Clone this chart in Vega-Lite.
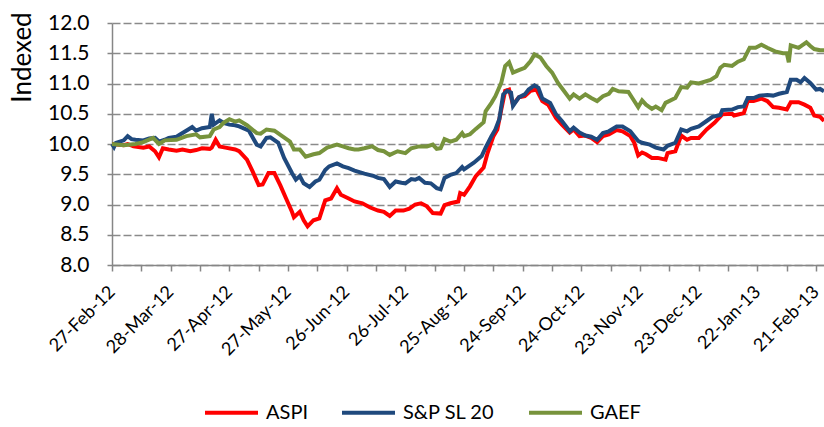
{
 "$schema": "https://vega.github.io/schema/vega-lite/v6.json",
 "width": 712, "height": 242,
 "autosize": {"type": "none"},
 "padding": {"left": 112, "top": 23, "right": 0, "bottom": 162},
 "background": "white",
 "config": {"view": {"stroke": null}, "font": "Lato"},
 "data": {"values": [
{"t":"2012-02-27","s":"ASPI","v":10.0},{"t":"2012-03-04","s":"ASPI","v":9.98},{"t":"2012-03-06","s":"ASPI","v":10.0},{"t":"2012-03-09","s":"ASPI","v":9.96},{"t":"2012-03-14","s":"ASPI","v":9.94},{"t":"2012-03-17","s":"ASPI","v":9.96},{"t":"2012-03-20","s":"ASPI","v":9.88},{"t":"2012-03-22","s":"ASPI","v":9.78},{"t":"2012-03-24","s":"ASPI","v":9.93},{"t":"2012-03-27","s":"ASPI","v":9.91},{"t":"2012-03-31","s":"ASPI","v":9.89},{"t":"2012-04-03","s":"ASPI","v":9.91},{"t":"2012-04-07","s":"ASPI","v":9.88},{"t":"2012-04-10","s":"ASPI","v":9.9},{"t":"2012-04-13","s":"ASPI","v":9.93},{"t":"2012-04-17","s":"ASPI","v":9.92},{"t":"2012-04-18","s":"ASPI","v":9.94},{"t":"2012-04-20","s":"ASPI","v":10.07},{"t":"2012-04-22","s":"ASPI","v":9.96},{"t":"2012-04-25","s":"ASPI","v":9.94},{"t":"2012-04-30","s":"ASPI","v":9.91},{"t":"2012-05-02","s":"ASPI","v":9.88},{"t":"2012-05-06","s":"ASPI","v":9.74},{"t":"2012-05-09","s":"ASPI","v":9.54},{"t":"2012-05-12","s":"ASPI","v":9.32},{"t":"2012-05-14","s":"ASPI","v":9.33},{"t":"2012-05-17","s":"ASPI","v":9.52},{"t":"2012-05-20","s":"ASPI","v":9.52},{"t":"2012-05-23","s":"ASPI","v":9.32},{"t":"2012-05-26","s":"ASPI","v":9.1},{"t":"2012-05-29","s":"ASPI","v":8.88},{"t":"2012-05-30","s":"ASPI","v":8.79},{"t":"2012-06-02","s":"ASPI","v":8.88},{"t":"2012-06-04","s":"ASPI","v":8.74},{"t":"2012-06-06","s":"ASPI","v":8.64},{"t":"2012-06-09","s":"ASPI","v":8.74},{"t":"2012-06-12","s":"ASPI","v":8.77},{"t":"2012-06-15","s":"ASPI","v":9.07},{"t":"2012-06-18","s":"ASPI","v":9.1},{"t":"2012-06-21","s":"ASPI","v":9.27},{"t":"2012-06-23","s":"ASPI","v":9.16},{"t":"2012-06-27","s":"ASPI","v":9.1},{"t":"2012-06-30","s":"ASPI","v":9.05},{"t":"2012-07-04","s":"ASPI","v":9.02},{"t":"2012-07-08","s":"ASPI","v":8.95},{"t":"2012-07-12","s":"ASPI","v":8.9},{"t":"2012-07-15","s":"ASPI","v":8.88},{"t":"2012-07-18","s":"ASPI","v":8.81},{"t":"2012-07-21","s":"ASPI","v":8.9},{"t":"2012-07-25","s":"ASPI","v":8.9},{"t":"2012-07-28","s":"ASPI","v":8.93},{"t":"2012-07-31","s":"ASPI","v":9.0},{"t":"2012-08-03","s":"ASPI","v":9.02},{"t":"2012-08-06","s":"ASPI","v":8.97},{"t":"2012-08-09","s":"ASPI","v":8.86},{"t":"2012-08-13","s":"ASPI","v":8.85},{"t":"2012-08-15","s":"ASPI","v":8.99},{"t":"2012-08-18","s":"ASPI","v":9.02},{"t":"2012-08-22","s":"ASPI","v":9.05},{"t":"2012-08-23","s":"ASPI","v":9.19},{"t":"2012-08-25","s":"ASPI","v":9.16},{"t":"2012-08-28","s":"ASPI","v":9.3},{"t":"2012-08-31","s":"ASPI","v":9.47},{"t":"2012-09-04","s":"ASPI","v":9.61},{"t":"2012-09-06","s":"ASPI","v":9.85},{"t":"2012-09-09","s":"ASPI","v":10.13},{"t":"2012-09-11","s":"ASPI","v":10.24},{"t":"2012-09-13","s":"ASPI","v":10.57},{"t":"2012-09-15","s":"ASPI","v":10.88},{"t":"2012-09-17","s":"ASPI","v":10.9},{"t":"2012-09-19","s":"ASPI","v":10.65},{"t":"2012-09-22","s":"ASPI","v":10.77},{"t":"2012-09-25","s":"ASPI","v":10.79},{"t":"2012-09-28","s":"ASPI","v":10.88},{"t":"2012-10-01","s":"ASPI","v":10.9},{"t":"2012-10-04","s":"ASPI","v":10.71},{"t":"2012-10-07","s":"ASPI","v":10.65},{"t":"2012-10-11","s":"ASPI","v":10.43},{"t":"2012-10-14","s":"ASPI","v":10.32},{"t":"2012-10-18","s":"ASPI","v":10.19},{"t":"2012-10-20","s":"ASPI","v":10.24},{"t":"2012-10-23","s":"ASPI","v":10.13},{"t":"2012-10-26","s":"ASPI","v":10.14},{"t":"2012-10-29","s":"ASPI","v":10.1},{"t":"2012-11-01","s":"ASPI","v":10.03},{"t":"2012-11-04","s":"ASPI","v":10.13},{"t":"2012-11-07","s":"ASPI","v":10.16},{"t":"2012-11-11","s":"ASPI","v":10.23},{"t":"2012-11-14","s":"ASPI","v":10.21},{"t":"2012-11-18","s":"ASPI","v":10.13},{"t":"2012-11-20","s":"ASPI","v":10.02},{"t":"2012-11-22","s":"ASPI","v":9.81},{"t":"2012-11-24","s":"ASPI","v":9.86},{"t":"2012-11-26","s":"ASPI","v":9.83},{"t":"2012-11-29","s":"ASPI","v":9.77},{"t":"2012-12-02","s":"ASPI","v":9.77},{"t":"2012-12-06","s":"ASPI","v":9.74},{"t":"2012-12-07","s":"ASPI","v":9.85},{"t":"2012-12-11","s":"ASPI","v":9.88},{"t":"2012-12-14","s":"ASPI","v":10.14},{"t":"2012-12-17","s":"ASPI","v":10.07},{"t":"2012-12-19","s":"ASPI","v":10.1},{"t":"2012-12-23","s":"ASPI","v":10.1},{"t":"2012-12-27","s":"ASPI","v":10.24},{"t":"2012-12-31","s":"ASPI","v":10.35},{"t":"2013-01-04","s":"ASPI","v":10.49},{"t":"2013-01-09","s":"ASPI","v":10.5},{"t":"2013-01-10","s":"ASPI","v":10.47},{"t":"2013-01-15","s":"ASPI","v":10.51},{"t":"2013-01-17","s":"ASPI","v":10.71},{"t":"2013-01-20","s":"ASPI","v":10.71},{"t":"2013-01-24","s":"ASPI","v":10.75},{"t":"2013-01-27","s":"ASPI","v":10.71},{"t":"2013-01-30","s":"ASPI","v":10.61},{"t":"2013-02-02","s":"ASPI","v":10.6},{"t":"2013-02-06","s":"ASPI","v":10.57},{"t":"2013-02-08","s":"ASPI","v":10.69},{"t":"2013-02-12","s":"ASPI","v":10.69},{"t":"2013-02-15","s":"ASPI","v":10.65},{"t":"2013-02-18","s":"ASPI","v":10.6},{"t":"2013-02-20","s":"ASPI","v":10.47},{"t":"2013-02-23","s":"ASPI","v":10.45},{"t":"2013-02-25","s":"ASPI","v":10.38},
{"t":"2012-02-27","s":"S&P SL 20","v":10.0},{"t":"2012-02-28","s":"S&P SL 20","v":9.95},{"t":"2012-02-29","s":"S&P SL 20","v":10.02},{"t":"2012-03-04","s":"S&P SL 20","v":10.06},{"t":"2012-03-06","s":"S&P SL 20","v":10.13},{"t":"2012-03-08","s":"S&P SL 20","v":10.08},{"t":"2012-03-10","s":"S&P SL 20","v":10.07},{"t":"2012-03-14","s":"S&P SL 20","v":10.06},{"t":"2012-03-17","s":"S&P SL 20","v":10.09},{"t":"2012-03-20","s":"S&P SL 20","v":10.1},{"t":"2012-03-22","s":"S&P SL 20","v":10.04},{"t":"2012-03-25","s":"S&P SL 20","v":10.07},{"t":"2012-03-27","s":"S&P SL 20","v":10.1},{"t":"2012-03-31","s":"S&P SL 20","v":10.12},{"t":"2012-04-02","s":"S&P SL 20","v":10.16},{"t":"2012-04-06","s":"S&P SL 20","v":10.24},{"t":"2012-04-08","s":"S&P SL 20","v":10.28},{"t":"2012-04-10","s":"S&P SL 20","v":10.22},{"t":"2012-04-13","s":"S&P SL 20","v":10.26},{"t":"2012-04-17","s":"S&P SL 20","v":10.28},{"t":"2012-04-18","s":"S&P SL 20","v":10.5},{"t":"2012-04-19","s":"S&P SL 20","v":10.32},{"t":"2012-04-22","s":"S&P SL 20","v":10.39},{"t":"2012-04-24","s":"S&P SL 20","v":10.35},{"t":"2012-04-27","s":"S&P SL 20","v":10.32},{"t":"2012-04-30","s":"S&P SL 20","v":10.31},{"t":"2012-05-02","s":"S&P SL 20","v":10.29},{"t":"2012-05-07","s":"S&P SL 20","v":10.22},{"t":"2012-05-11","s":"S&P SL 20","v":9.99},{"t":"2012-05-13","s":"S&P SL 20","v":9.96},{"t":"2012-05-16","s":"S&P SL 20","v":10.1},{"t":"2012-05-18","s":"S&P SL 20","v":10.11},{"t":"2012-05-22","s":"S&P SL 20","v":10.02},{"t":"2012-05-25","s":"S&P SL 20","v":9.77},{"t":"2012-05-29","s":"S&P SL 20","v":9.52},{"t":"2012-05-31","s":"S&P SL 20","v":9.41},{"t":"2012-06-02","s":"S&P SL 20","v":9.47},{"t":"2012-06-04","s":"S&P SL 20","v":9.35},{"t":"2012-06-07","s":"S&P SL 20","v":9.29},{"t":"2012-06-10","s":"S&P SL 20","v":9.38},{"t":"2012-06-12","s":"S&P SL 20","v":9.41},{"t":"2012-06-15","s":"S&P SL 20","v":9.57},{"t":"2012-06-17","s":"S&P SL 20","v":9.63},{"t":"2012-06-21","s":"S&P SL 20","v":9.68},{"t":"2012-06-24","s":"S&P SL 20","v":9.63},{"t":"2012-06-27","s":"S&P SL 20","v":9.6},{"t":"2012-06-30","s":"S&P SL 20","v":9.56},{"t":"2012-07-05","s":"S&P SL 20","v":9.51},{"t":"2012-07-10","s":"S&P SL 20","v":9.47},{"t":"2012-07-12","s":"S&P SL 20","v":9.44},{"t":"2012-07-15","s":"S&P SL 20","v":9.42},{"t":"2012-07-18","s":"S&P SL 20","v":9.29},{"t":"2012-07-21","s":"S&P SL 20","v":9.38},{"t":"2012-07-24","s":"S&P SL 20","v":9.36},{"t":"2012-07-26","s":"S&P SL 20","v":9.35},{"t":"2012-07-29","s":"S&P SL 20","v":9.42},{"t":"2012-07-31","s":"S&P SL 20","v":9.41},{"t":"2012-08-02","s":"S&P SL 20","v":9.44},{"t":"2012-08-05","s":"S&P SL 20","v":9.36},{"t":"2012-08-08","s":"S&P SL 20","v":9.35},{"t":"2012-08-11","s":"S&P SL 20","v":9.27},{"t":"2012-08-13","s":"S&P SL 20","v":9.25},{"t":"2012-08-15","s":"S&P SL 20","v":9.44},{"t":"2012-08-18","s":"S&P SL 20","v":9.49},{"t":"2012-08-21","s":"S&P SL 20","v":9.52},{"t":"2012-08-24","s":"S&P SL 20","v":9.62},{"t":"2012-08-25","s":"S&P SL 20","v":9.58},{"t":"2012-08-30","s":"S&P SL 20","v":9.69},{"t":"2012-09-03","s":"S&P SL 20","v":9.8},{"t":"2012-09-05","s":"S&P SL 20","v":9.94},{"t":"2012-09-08","s":"S&P SL 20","v":10.13},{"t":"2012-09-10","s":"S&P SL 20","v":10.24},{"t":"2012-09-12","s":"S&P SL 20","v":10.41},{"t":"2012-09-14","s":"S&P SL 20","v":10.82},{"t":"2012-09-16","s":"S&P SL 20","v":10.88},{"t":"2012-09-18","s":"S&P SL 20","v":10.85},{"t":"2012-09-19","s":"S&P SL 20","v":10.63},{"t":"2012-09-22","s":"S&P SL 20","v":10.77},{"t":"2012-09-25","s":"S&P SL 20","v":10.82},{"t":"2012-09-27","s":"S&P SL 20","v":10.9},{"t":"2012-09-30","s":"S&P SL 20","v":10.97},{"t":"2012-10-02","s":"S&P SL 20","v":10.93},{"t":"2012-10-04","s":"S&P SL 20","v":10.75},{"t":"2012-10-08","s":"S&P SL 20","v":10.68},{"t":"2012-10-11","s":"S&P SL 20","v":10.49},{"t":"2012-10-14","s":"S&P SL 20","v":10.38},{"t":"2012-10-18","s":"S&P SL 20","v":10.21},{"t":"2012-10-20","s":"S&P SL 20","v":10.27},{"t":"2012-10-23","s":"S&P SL 20","v":10.19},{"t":"2012-10-26","s":"S&P SL 20","v":10.14},{"t":"2012-10-29","s":"S&P SL 20","v":10.12},{"t":"2012-11-01","s":"S&P SL 20","v":10.07},{"t":"2012-11-04","s":"S&P SL 20","v":10.18},{"t":"2012-11-07","s":"S&P SL 20","v":10.21},{"t":"2012-11-11","s":"S&P SL 20","v":10.29},{"t":"2012-11-14","s":"S&P SL 20","v":10.29},{"t":"2012-11-18","s":"S&P SL 20","v":10.21},{"t":"2012-11-20","s":"S&P SL 20","v":10.13},{"t":"2012-11-22","s":"S&P SL 20","v":10.05},{"t":"2012-11-24","s":"S&P SL 20","v":10.02},{"t":"2012-11-28","s":"S&P SL 20","v":9.99},{"t":"2012-12-01","s":"S&P SL 20","v":9.94},{"t":"2012-12-05","s":"S&P SL 20","v":9.91},{"t":"2012-12-07","s":"S&P SL 20","v":9.97},{"t":"2012-12-11","s":"S&P SL 20","v":10.02},{"t":"2012-12-14","s":"S&P SL 20","v":10.24},{"t":"2012-12-17","s":"S&P SL 20","v":10.21},{"t":"2012-12-19","s":"S&P SL 20","v":10.25},{"t":"2012-12-23","s":"S&P SL 20","v":10.29},{"t":"2012-12-27","s":"S&P SL 20","v":10.38},{"t":"2012-12-30","s":"S&P SL 20","v":10.45},{"t":"2013-01-03","s":"S&P SL 20","v":10.48},{"t":"2013-01-04","s":"S&P SL 20","v":10.56},{"t":"2013-01-09","s":"S&P SL 20","v":10.57},{"t":"2013-01-12","s":"S&P SL 20","v":10.61},{"t":"2013-01-15","s":"S&P SL 20","v":10.62},{"t":"2013-01-17","s":"S&P SL 20","v":10.76},{"t":"2013-01-20","s":"S&P SL 20","v":10.76},{"t":"2013-01-23","s":"S&P SL 20","v":10.8},{"t":"2013-01-27","s":"S&P SL 20","v":10.81},{"t":"2013-01-30","s":"S&P SL 20","v":10.8},{"t":"2013-02-02","s":"S&P SL 20","v":10.83},{"t":"2013-02-06","s":"S&P SL 20","v":10.86},{"t":"2013-02-08","s":"S&P SL 20","v":11.06},{"t":"2013-02-11","s":"S&P SL 20","v":11.06},{"t":"2013-02-13","s":"S&P SL 20","v":11.02},{"t":"2013-02-15","s":"S&P SL 20","v":11.09},{"t":"2013-02-18","s":"S&P SL 20","v":11.01},{"t":"2013-02-21","s":"S&P SL 20","v":10.9},{"t":"2013-02-23","s":"S&P SL 20","v":10.91},{"t":"2013-02-25","s":"S&P SL 20","v":10.87},
{"t":"2012-02-27","s":"GAEF","v":10.0},{"t":"2012-03-04","s":"GAEF","v":9.98},{"t":"2012-03-10","s":"GAEF","v":10.0},{"t":"2012-03-14","s":"GAEF","v":10.03},{"t":"2012-03-19","s":"GAEF","v":10.1},{"t":"2012-03-22","s":"GAEF","v":10.0},{"t":"2012-03-25","s":"GAEF","v":10.06},{"t":"2012-03-31","s":"GAEF","v":10.07},{"t":"2012-04-05","s":"GAEF","v":10.13},{"t":"2012-04-10","s":"GAEF","v":10.16},{"t":"2012-04-12","s":"GAEF","v":10.11},{"t":"2012-04-17","s":"GAEF","v":10.13},{"t":"2012-04-19","s":"GAEF","v":10.24},{"t":"2012-04-22","s":"GAEF","v":10.28},{"t":"2012-04-24","s":"GAEF","v":10.35},{"t":"2012-04-27","s":"GAEF","v":10.41},{"t":"2012-04-30","s":"GAEF","v":10.37},{"t":"2012-05-02","s":"GAEF","v":10.39},{"t":"2012-05-06","s":"GAEF","v":10.31},{"t":"2012-05-11","s":"GAEF","v":10.18},{"t":"2012-05-13","s":"GAEF","v":10.17},{"t":"2012-05-16","s":"GAEF","v":10.24},{"t":"2012-05-20","s":"GAEF","v":10.22},{"t":"2012-05-24","s":"GAEF","v":10.13},{"t":"2012-05-28","s":"GAEF","v":10.04},{"t":"2012-05-30","s":"GAEF","v":9.91},{"t":"2012-06-02","s":"GAEF","v":9.91},{"t":"2012-06-05","s":"GAEF","v":9.79},{"t":"2012-06-09","s":"GAEF","v":9.83},{"t":"2012-06-12","s":"GAEF","v":9.85},{"t":"2012-06-16","s":"GAEF","v":9.94},{"t":"2012-06-21","s":"GAEF","v":9.99},{"t":"2012-06-24","s":"GAEF","v":9.96},{"t":"2012-06-27","s":"GAEF","v":9.93},{"t":"2012-06-30","s":"GAEF","v":9.91},{"t":"2012-07-02","s":"GAEF","v":9.91},{"t":"2012-07-05","s":"GAEF","v":9.93},{"t":"2012-07-09","s":"GAEF","v":9.96},{"t":"2012-07-12","s":"GAEF","v":9.9},{"t":"2012-07-15","s":"GAEF","v":9.88},{"t":"2012-07-18","s":"GAEF","v":9.82},{"t":"2012-07-22","s":"GAEF","v":9.88},{"t":"2012-07-26","s":"GAEF","v":9.85},{"t":"2012-07-29","s":"GAEF","v":9.93},{"t":"2012-08-02","s":"GAEF","v":9.96},{"t":"2012-08-06","s":"GAEF","v":9.96},{"t":"2012-08-09","s":"GAEF","v":9.99},{"t":"2012-08-11","s":"GAEF","v":9.92},{"t":"2012-08-13","s":"GAEF","v":9.93},{"t":"2012-08-15","s":"GAEF","v":10.08},{"t":"2012-08-18","s":"GAEF","v":10.04},{"t":"2012-08-21","s":"GAEF","v":10.07},{"t":"2012-08-24","s":"GAEF","v":10.18},{"t":"2012-08-25","s":"GAEF","v":10.13},{"t":"2012-08-28","s":"GAEF","v":10.16},{"t":"2012-08-31","s":"GAEF","v":10.25},{"t":"2012-09-04","s":"GAEF","v":10.36},{"t":"2012-09-05","s":"GAEF","v":10.54},{"t":"2012-09-08","s":"GAEF","v":10.68},{"t":"2012-09-10","s":"GAEF","v":10.79},{"t":"2012-09-13","s":"GAEF","v":11.01},{"t":"2012-09-15","s":"GAEF","v":11.29},{"t":"2012-09-17","s":"GAEF","v":11.35},{"t":"2012-09-19","s":"GAEF","v":11.18},{"t":"2012-09-22","s":"GAEF","v":11.22},{"t":"2012-09-25","s":"GAEF","v":11.26},{"t":"2012-09-28","s":"GAEF","v":11.37},{"t":"2012-09-30","s":"GAEF","v":11.48},{"t":"2012-10-03","s":"GAEF","v":11.43},{"t":"2012-10-06","s":"GAEF","v":11.29},{"t":"2012-10-09","s":"GAEF","v":11.18},{"t":"2012-10-12","s":"GAEF","v":11.01},{"t":"2012-10-15","s":"GAEF","v":10.88},{"t":"2012-10-18","s":"GAEF","v":10.75},{"t":"2012-10-20","s":"GAEF","v":10.82},{"t":"2012-10-23","s":"GAEF","v":10.75},{"t":"2012-10-26","s":"GAEF","v":10.82},{"t":"2012-10-29","s":"GAEF","v":10.76},{"t":"2012-11-01","s":"GAEF","v":10.71},{"t":"2012-11-04","s":"GAEF","v":10.79},{"t":"2012-11-07","s":"GAEF","v":10.83},{"t":"2012-11-09","s":"GAEF","v":10.91},{"t":"2012-11-12","s":"GAEF","v":10.87},{"t":"2012-11-17","s":"GAEF","v":10.86},{"t":"2012-11-19","s":"GAEF","v":10.76},{"t":"2012-11-22","s":"GAEF","v":10.61},{"t":"2012-11-24","s":"GAEF","v":10.72},{"t":"2012-11-26","s":"GAEF","v":10.65},{"t":"2012-11-29","s":"GAEF","v":10.58},{"t":"2012-12-01","s":"GAEF","v":10.62},{"t":"2012-12-04","s":"GAEF","v":10.56},{"t":"2012-12-06","s":"GAEF","v":10.68},{"t":"2012-12-11","s":"GAEF","v":10.76},{"t":"2012-12-14","s":"GAEF","v":10.94},{"t":"2012-12-17","s":"GAEF","v":10.93},{"t":"2012-12-19","s":"GAEF","v":11.02},{"t":"2012-12-23","s":"GAEF","v":11.0},{"t":"2012-12-29","s":"GAEF","v":11.06},{"t":"2013-01-01","s":"GAEF","v":11.12},{"t":"2013-01-03","s":"GAEF","v":11.26},{"t":"2013-01-05","s":"GAEF","v":11.31},{"t":"2013-01-09","s":"GAEF","v":11.29},{"t":"2013-01-12","s":"GAEF","v":11.36},{"t":"2013-01-15","s":"GAEF","v":11.4},{"t":"2013-01-18","s":"GAEF","v":11.59},{"t":"2013-01-21","s":"GAEF","v":11.59},{"t":"2013-01-24","s":"GAEF","v":11.64},{"t":"2013-01-27","s":"GAEF","v":11.59},{"t":"2013-01-31","s":"GAEF","v":11.53},{"t":"2013-02-04","s":"GAEF","v":11.5},{"t":"2013-02-06","s":"GAEF","v":11.5},{"t":"2013-02-07","s":"GAEF","v":11.35},{"t":"2013-02-08","s":"GAEF","v":11.63},{"t":"2013-02-12","s":"GAEF","v":11.59},{"t":"2013-02-16","s":"GAEF","v":11.68},{"t":"2013-02-18","s":"GAEF","v":11.62},{"t":"2013-02-20","s":"GAEF","v":11.57},{"t":"2013-02-23","s":"GAEF","v":11.55},{"t":"2013-02-25","s":"GAEF","v":11.55}
 ]},
 "encoding": {
  "x": {
   "field": "t", "type": "temporal",
   "scale": {"type": "utc", "domain": [{"year": 2012, "month": 2, "date": 27, "utc": true}, {"year": 2013, "month": 2, "date": 25, "utc": true}]},
   "axis": {
    "title": null,
    "values": [1330300800000,1331596800000,1332892800000,1334188800000,1335484800000,1336780800000,1338076800000,1339372800000,1340668800000,1341964800000,1343260800000,1344556800000,1345852800000,1347148800000,1348444800000,1349740800000,1351036800000,1352332800000,1353628800000,1354924800000,1356220800000,1357516800000,1358812800000,1360108800000,1361404800000],
    "labelExpr": "round((datum.value - 1330300800000) / 86400000) % 30 == 0 ? utcFormat(datum.value, '%d-%b-%y') : ''",
    "labelAngle": -45, "labelAlign": "right", "labelBaseline": "middle",
    "labelFontSize": 18, "labelFontWeight": "normal", "labelColor": "#000000", "labelOverlap": false, "labelFlush": false, "labelBound": false,
    "labelPadding": 18, "labelDx": 4,
    "grid": false, "domainColor": "#868686", "domainWidth": 1.5,
    "tickColor": "#868686", "tickWidth": 1.5, "tickSize": 6
   }
  },
  "y": {
   "field": "v", "type": "quantitative",
   "scale": {"domain": [8, 12], "nice": false, "zero": false},
   "axis": {
    "title": "Indexed", "titleFontSize": 26, "titleFontWeight": "normal", "titleColor": "#000000",
    "titleAngle": 270, "titleX": -90, "titleY": 34, "titleAlign": "center", "titleBaseline": "middle",
    "values": [8, 8.5, 9, 9.5, 10, 10.5, 11, 11.5, 12], "format": ".1f",
    "labelFontSize": 21, "labelFontWeight": "normal", "labelColor": "#000000", "labelPadding": 18,
    "grid": true, "gridColor": "#8a8a8a", "gridDash": [8, 3], "gridWidth": 1.5,
    "domainColor": "#868686", "domainWidth": 1.5,
    "tickColor": "#868686", "tickWidth": 1.5, "tickSize": 5
   }
  },
  "color": {
   "field": "s", "type": "nominal",
   "scale": {"domain": ["ASPI", "S&P SL 20", "GAEF"], "range": ["#FF0000", "#1F497D", "#77933C"]},
   "legend": {
    "title": null, "orient": "none", "legendX": 91, "legendY": 361, "direction": "horizontal",
    "symbolType": "stroke", "symbolSize": 2809, "symbolStrokeWidth": 4,
    "labelFontSize": 20, "labelFontWeight": "normal", "labelColor": "#000000", "labelOffset": 6, "columnPadding": 26, "padding": 0
   }
  }
 },
 "layer": [
  {"transform": [{"filter": "datum.s === 'ASPI'"}], "mark": {"type": "line", "strokeWidth": 4}},
  {"transform": [{"filter": "datum.s === 'S&P SL 20'"}], "mark": {"type": "line", "strokeWidth": 4}},
  {"transform": [{"filter": "datum.s === 'GAEF'"}], "mark": {"type": "line", "strokeWidth": 4}}
 ]
}
